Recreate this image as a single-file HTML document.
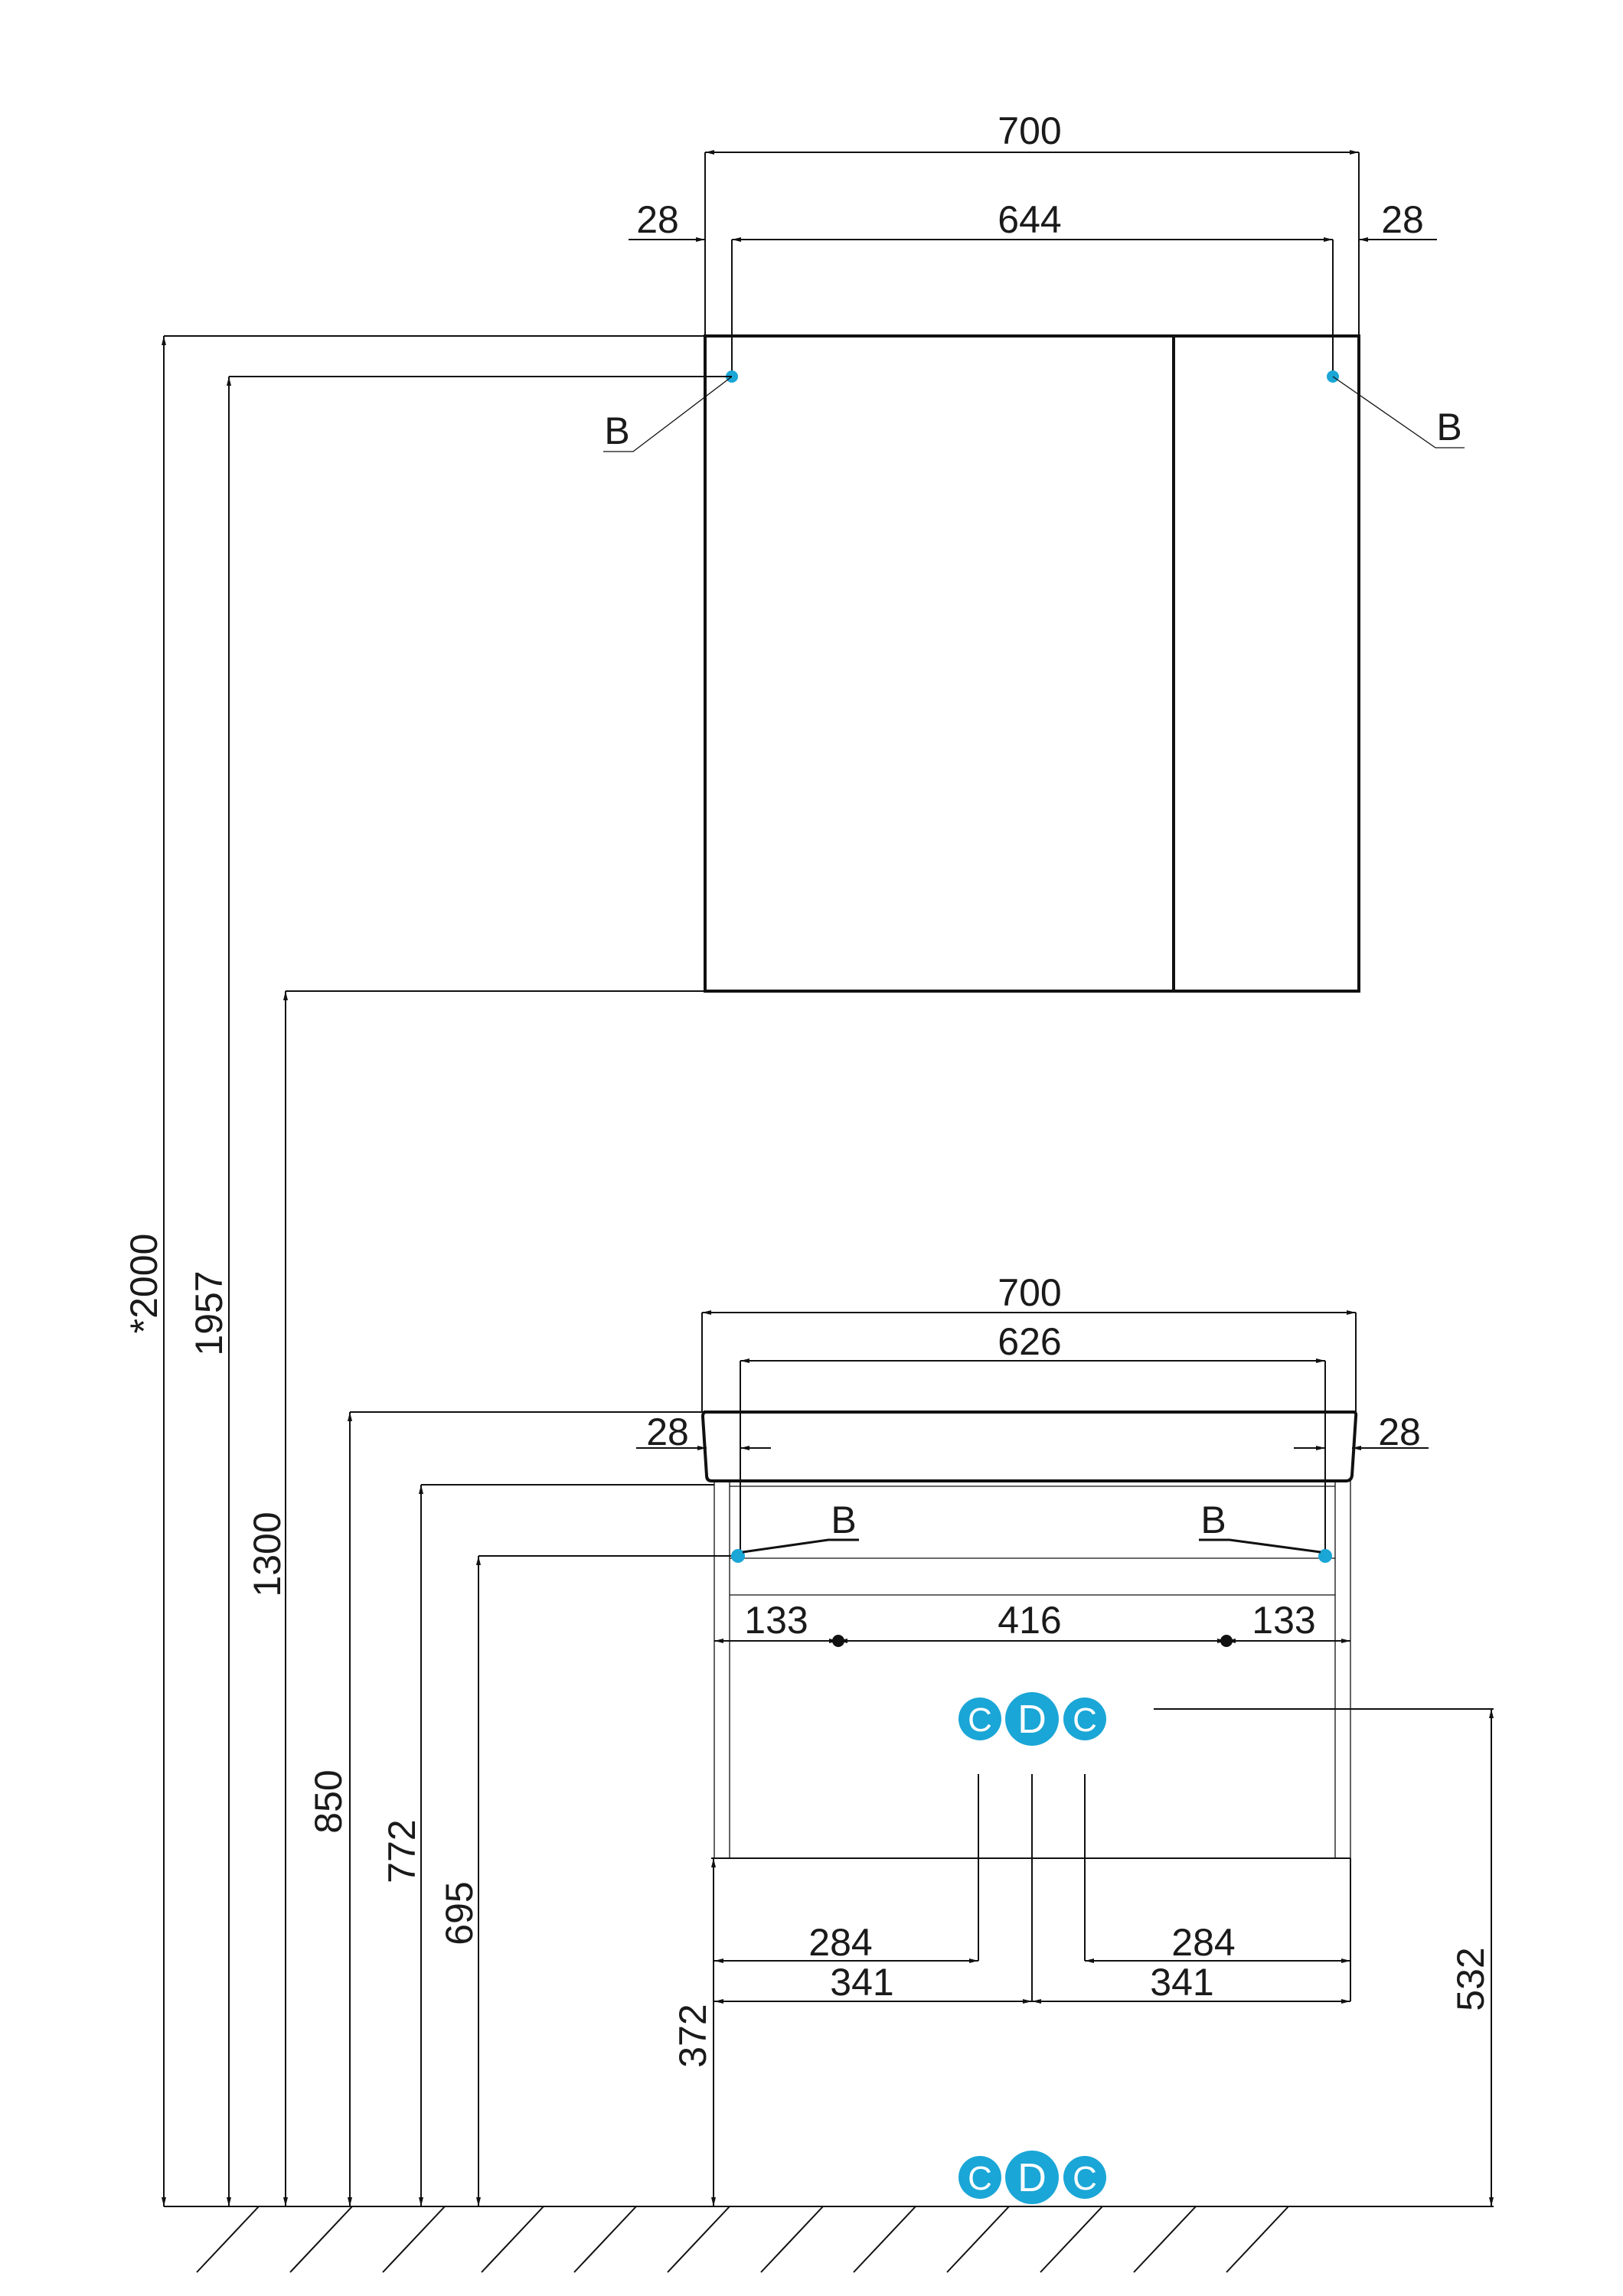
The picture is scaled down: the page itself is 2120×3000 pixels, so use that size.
<!DOCTYPE html>
<html><head><meta charset="utf-8"><style>
html,body{margin:0;padding:0;background:#fff}
svg{display:block}
text{font-family:"Liberation Sans",sans-serif;font-size:50px;fill:#1a1a1a;text-anchor:middle}
.d{stroke:#111;stroke-width:2;fill:none}
.t{stroke:#111;stroke-width:1.3;fill:none}
.k{stroke:#111;stroke-width:4;fill:none}
.w{fill:#fff;font-size:44px}
</style></head><body>
<svg width="2120" height="3000" viewBox="0 0 2120 3000" xmlns="http://www.w3.org/2000/svg">
<defs>
<marker id="a" viewBox="0 0 12 6" refX="12" refY="3" markerWidth="12" markerHeight="6" markerUnits="userSpaceOnUse" orient="auto-start-reverse"><path d="M0,0 L12,3 L0,6 z" fill="#111"/></marker>
</defs>

<!-- TOP CABINET -->
<line class="d" x1="921" y1="199" x2="1775" y2="199" marker-start="url(#a)" marker-end="url(#a)"/>
<text x="1345" y="188">700</text>
<line class="d" x1="921" y1="199" x2="921" y2="439"/>
<line class="d" x1="1775" y1="199" x2="1775" y2="439"/>
<line class="d" x1="956" y1="313" x2="956" y2="492"/>
<line class="d" x1="1741" y1="313" x2="1741" y2="492"/>
<line class="d" x1="956" y1="313" x2="1741" y2="313" marker-start="url(#a)" marker-end="url(#a)"/>
<text x="1345" y="304">644</text>
<line class="d" x1="821" y1="313" x2="921" y2="313" marker-end="url(#a)"/>
<text x="859" y="304">28</text>
<line class="d" x1="1877" y1="313" x2="1775" y2="313" marker-end="url(#a)"/>
<text x="1832" y="304">28</text>
<rect class="k" x="921" y="439" width="854" height="856"/>
<line class="k" x1="1533" y1="439" x2="1533" y2="1295"/>
<circle cx="956" cy="492" r="8" fill="#1aa6d6"/>
<circle cx="1741" cy="492" r="8" fill="#1aa6d6"/>
<polyline class="t" points="956,492 827,590 788,590"/>
<text x="806" y="580">B</text>
<polyline class="t" points="1741,492 1875,585 1913,585"/>
<text x="1893" y="575">B</text>

<!-- LEFT VERTICAL DIMS -->
<line class="d" x1="214" y1="439" x2="921" y2="439"/>
<line class="d" x1="299" y1="492" x2="956" y2="492"/>
<line class="d" x1="373" y1="1295" x2="921" y2="1295"/>
<line class="d" x1="214" y1="439" x2="214" y2="2883" marker-start="url(#a)" marker-end="url(#a)"/>
<line class="d" x1="299" y1="492" x2="299" y2="2883" marker-start="url(#a)" marker-end="url(#a)"/>
<line class="d" x1="373" y1="1295" x2="373" y2="2883" marker-start="url(#a)" marker-end="url(#a)"/>
<line class="d" x1="457" y1="1845" x2="457" y2="2883" marker-start="url(#a)" marker-end="url(#a)"/>
<line class="d" x1="550" y1="1940" x2="550" y2="2883" marker-start="url(#a)" marker-end="url(#a)"/>
<line class="d" x1="625" y1="2033" x2="625" y2="2883" marker-start="url(#a)" marker-end="url(#a)"/>
<line class="d" x1="932" y1="2428" x2="932" y2="2883" marker-start="url(#a)" marker-end="url(#a)"/>
<line class="d" x1="1948" y1="2233" x2="1948" y2="2883" marker-start="url(#a)" marker-end="url(#a)"/>
<line class="d" x1="457" y1="1845" x2="919" y2="1845"/>
<line class="d" x1="550" y1="1940" x2="933" y2="1940"/>
<line class="d" x1="625" y1="2033" x2="964" y2="2033"/>
<line class="d" x1="1507" y1="2233" x2="1951" y2="2233"/>
<text transform="translate(205,1677) rotate(-90)">*2000</text>
<text transform="translate(290,1716) rotate(-90)">1957</text>
<text transform="translate(366,2031) rotate(-90)">1300</text>
<text transform="translate(446,2354) rotate(-90)">850</text>
<text transform="translate(542,2419) rotate(-90)">772</text>
<text transform="translate(617,2500) rotate(-90)">695</text>
<text transform="translate(922,2660) rotate(-90)">372</text>
<text transform="translate(1938,2586) rotate(-90)">532</text>

<!-- VANITY -->
<line class="d" x1="917" y1="1715" x2="1771" y2="1715" marker-start="url(#a)" marker-end="url(#a)"/>
<text x="1345" y="1706">700</text>
<line class="d" x1="917" y1="1715" x2="917" y2="1845"/>
<line class="d" x1="1771" y1="1715" x2="1771" y2="1845"/>
<line class="d" x1="967" y1="1778" x2="1731" y2="1778" marker-start="url(#a)" marker-end="url(#a)"/>
<text x="1345" y="1770">626</text>
<line class="d" x1="967" y1="1778" x2="967" y2="2033"/>
<line class="d" x1="1731" y1="1778" x2="1731" y2="2033"/>
<path class="k" d="M919,1845 L1768,1845 Q1772,1845 1771,1851 L1766,1928 Q1765,1935 1758,1935 L930,1935 Q923,1935 923,1928 L918,1851 Q918,1845 922,1845 Z"/>
<line class="d" x1="831" y1="1892" x2="923" y2="1892" marker-end="url(#a)"/>
<line class="d" x1="1007" y1="1892" x2="967" y2="1892" marker-end="url(#a)"/>
<text x="872" y="1888">28</text>
<line class="d" x1="1690" y1="1892" x2="1731" y2="1892" marker-end="url(#a)"/>
<line class="d" x1="1866" y1="1892" x2="1766" y2="1892" marker-end="url(#a)"/>
<text x="1828" y="1888">28</text>

<rect class="t" x="933" y="1935" width="831" height="493"/>
<line class="t" x1="953" y1="1935" x2="953" y2="2428"/>
<line class="t" x1="1744" y1="1935" x2="1744" y2="2428"/>
<line class="t" x1="953" y1="1942" x2="1744" y2="1942"/>
<line class="t" x1="953" y1="2036" x2="1744" y2="2036"/>
<line class="t" x1="953" y1="2084" x2="1744" y2="2084"/>
<line class="d" x1="929" y1="2428" x2="1764" y2="2428"/>

<circle cx="964" cy="2033" r="9" fill="#1aa6d6"/>
<circle cx="1731" cy="2033" r="9" fill="#1aa6d6"/>
<polyline class="k" style="stroke-width:3" points="970,2028 1082,2012 1122,2012"/>
<text x="1102" y="2003">B</text>
<polyline class="k" style="stroke-width:3" points="1725,2028 1606,2012 1566,2012"/>
<text x="1585" y="2003">B</text>

<line class="d" x1="933" y1="2144" x2="1095" y2="2144" marker-start="url(#a)" marker-end="url(#a)"/>
<line class="d" x1="1095" y1="2144" x2="1602" y2="2144" marker-start="url(#a)" marker-end="url(#a)"/>
<line class="d" x1="1602" y1="2144" x2="1764" y2="2144" marker-start="url(#a)" marker-end="url(#a)"/>
<circle cx="1095" cy="2144" r="8" fill="#111"/>
<circle cx="1602" cy="2144" r="8" fill="#111"/>
<text x="1014" y="2134">133</text>
<text x="1345" y="2134">416</text>
<text x="1677" y="2134">133</text>

<!-- CDC top -->
<circle cx="1280" cy="2246" r="28" fill="#1aa6d6"/>
<circle cx="1417" cy="2246" r="28" fill="#1aa6d6"/>
<circle cx="1348" cy="2246" r="35" fill="#1aa6d6"/>
<text class="w" x="1280" y="2262">C</text>
<text class="w" x="1348" y="2264" style="font-size:52px">D</text>
<text class="w" x="1417" y="2262">C</text>

<line class="d" x1="1278" y1="2318" x2="1278" y2="2562"/>
<line class="d" x1="1348" y1="2318" x2="1348" y2="2615"/>
<line class="d" x1="1417" y1="2318" x2="1417" y2="2562"/>
<line class="d" x1="1764" y1="2428" x2="1764" y2="2615"/>
<line class="d" x1="933" y1="2562" x2="1278" y2="2562" marker-start="url(#a)" marker-end="url(#a)"/>
<line class="d" x1="1417" y1="2562" x2="1764" y2="2562" marker-start="url(#a)" marker-end="url(#a)"/>
<line class="d" x1="933" y1="2615" x2="1348" y2="2615" marker-start="url(#a)" marker-end="url(#a)"/>
<line class="d" x1="1348" y1="2615" x2="1764" y2="2615" marker-start="url(#a)" marker-end="url(#a)"/>
<text x="1098" y="2555">284</text>
<text x="1572" y="2555">284</text>
<text x="1126" y="2607">341</text>
<text x="1544" y="2607">341</text>

<!-- CDC bottom -->
<circle cx="1280" cy="2845" r="28" fill="#1aa6d6"/>
<circle cx="1417" cy="2845" r="28" fill="#1aa6d6"/>
<circle cx="1348" cy="2845" r="35" fill="#1aa6d6"/>
<text class="w" x="1280" y="2861">C</text>
<text class="w" x="1348" y="2863" style="font-size:52px">D</text>
<text class="w" x="1417" y="2861">C</text>

<!-- FLOOR -->
<line class="d" x1="214" y1="2883" x2="1951" y2="2883"/>
<g class="d">
<line x1="338" y1="2883" x2="257" y2="2969"/>
<line x1="460" y1="2883" x2="379" y2="2969"/>
<line x1="581" y1="2883" x2="500" y2="2969"/>
<line x1="710" y1="2883" x2="629" y2="2969"/>
<line x1="831" y1="2883" x2="750" y2="2969"/>
<line x1="953" y1="2883" x2="872" y2="2969"/>
<line x1="1075" y1="2883" x2="994" y2="2969"/>
<line x1="1196" y1="2883" x2="1115" y2="2969"/>
<line x1="1318" y1="2883" x2="1237" y2="2969"/>
<line x1="1440" y1="2883" x2="1359" y2="2969"/>
<line x1="1562" y1="2883" x2="1481" y2="2969"/>
<line x1="1683" y1="2883" x2="1602" y2="2969"/>
</g>
</svg>
</body></html>
